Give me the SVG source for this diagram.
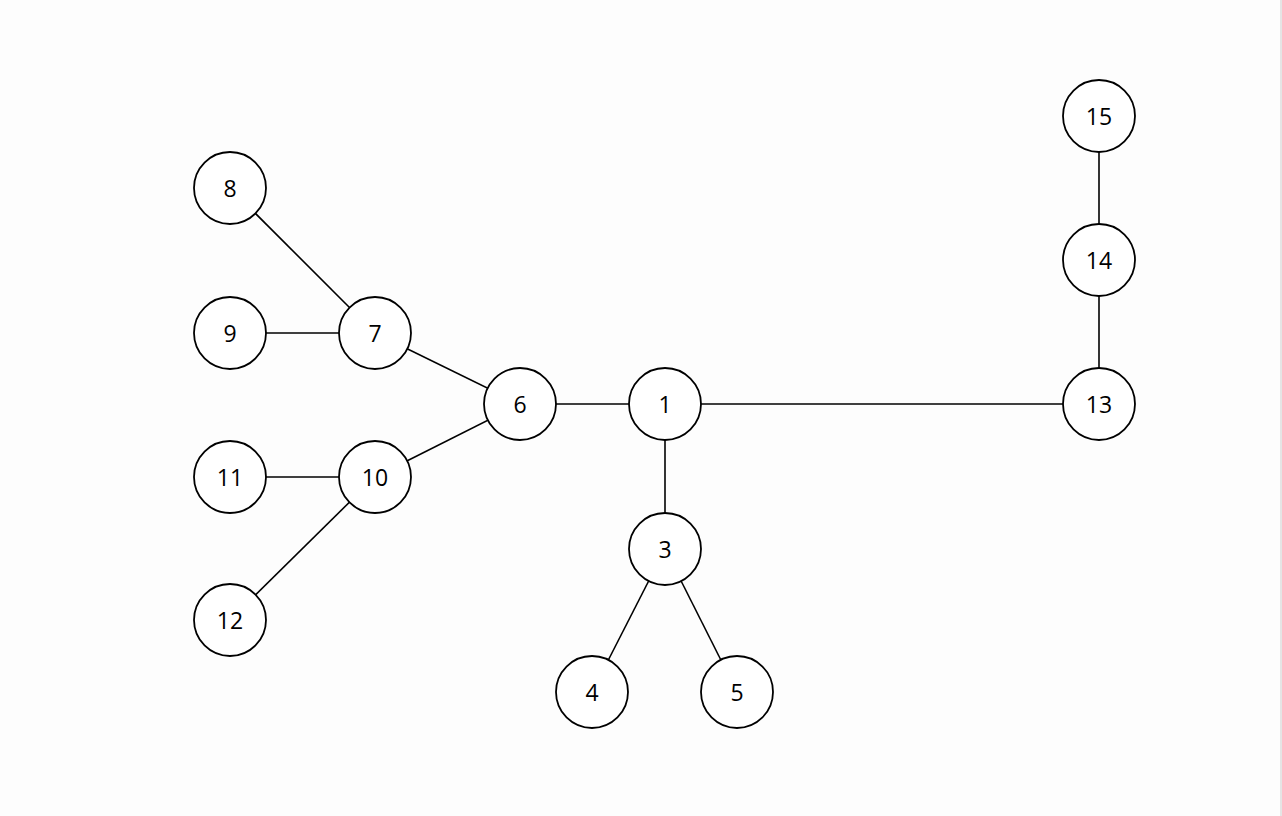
<svg xmlns="http://www.w3.org/2000/svg" width="1282" height="816" viewBox="0 0 1282 816">
<style>
.e{stroke:#000;stroke-width:1.6;fill:none}
.n circle{fill:#fff;stroke:#000;stroke-width:1.8}
.n text{font-family:"Open Sans","Noto Sans",sans-serif;font-size:23px;fill:#000;text-anchor:middle;dominant-baseline:central}
</style>
<rect width="1282" height="816" fill="#fdfdfd"/>
<line x1="1281" y1="0" x2="1281" y2="816" stroke="#ddd" stroke-width="1.5"/>
<g id="edges">
<line class="e" x1="665" y1="404" x2="1099" y2="404"/>
<line class="e" x1="520" y1="404" x2="665" y2="404"/>
<line class="e" x1="665" y1="404" x2="665" y2="549"/>
<line class="e" x1="665" y1="549" x2="592" y2="692"/>
<line class="e" x1="665" y1="549" x2="737" y2="692"/>
<line class="e" x1="520" y1="404" x2="375" y2="333"/>
<line class="e" x1="520" y1="404" x2="375" y2="477"/>
<line class="e" x1="375" y1="333" x2="230" y2="188"/>
<line class="e" x1="375" y1="333" x2="230" y2="333"/>
<line class="e" x1="375" y1="477" x2="230" y2="477"/>
<line class="e" x1="375" y1="477" x2="230" y2="620"/>
<line class="e" x1="1099" y1="404" x2="1099" y2="260"/>
<line class="e" x1="1099" y1="260" x2="1099" y2="116"/>
</g>
<g id="n1" class="n"><circle cx="665" cy="404" r="36"/><text x="665" y="404">1</text></g>
<g id="n3" class="n"><circle cx="665" cy="549" r="36"/><text x="665" y="549">3</text></g>
<g id="n4" class="n"><circle cx="592" cy="692" r="36"/><text x="592" y="692">4</text></g>
<g id="n5" class="n"><circle cx="737" cy="692" r="36"/><text x="737" y="692">5</text></g>
<g id="n6" class="n"><circle cx="520" cy="404" r="36"/><text x="520" y="404">6</text></g>
<g id="n7" class="n"><circle cx="375" cy="333" r="36"/><text x="375" y="333">7</text></g>
<g id="n8" class="n"><circle cx="230" cy="188" r="36"/><text x="230" y="188">8</text></g>
<g id="n9" class="n"><circle cx="230" cy="333" r="36"/><text x="230" y="333">9</text></g>
<g id="n10" class="n"><circle cx="375" cy="477" r="36"/><text x="375" y="477">10</text></g>
<g id="n11" class="n"><circle cx="230" cy="477" r="36"/><text x="230" y="477">11</text></g>
<g id="n12" class="n"><circle cx="230" cy="620" r="36"/><text x="230" y="620">12</text></g>
<g id="n13" class="n"><circle cx="1099" cy="404" r="36"/><text x="1099" y="404">13</text></g>
<g id="n14" class="n"><circle cx="1099" cy="260" r="36"/><text x="1099" y="260">14</text></g>
<g id="n15" class="n"><circle cx="1099" cy="116" r="36"/><text x="1099" y="116">15</text></g>
</svg>
